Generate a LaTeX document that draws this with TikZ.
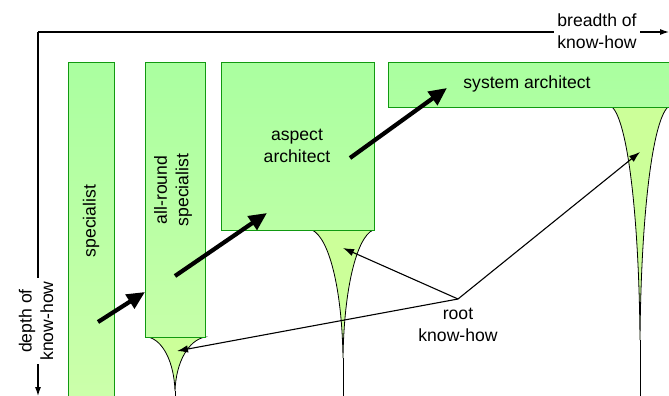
\documentclass[tikz,border=0pt]{standalone}
\usepackage{fontspec}
\setmainfont{Liberation Sans}
\usetikzlibrary{arrows.meta}
\definecolor{grtop}{HTML}{AAFFA0}
\definecolor{grbot}{HTML}{CCFFAA}
\definecolor{rootfill}{HTML}{CCFF99}
\definecolor{boxline}{HTML}{119911}
\begin{document}
\begin{tikzpicture}[x=1pt,y=-1pt,font=\fontsize{17.6}{21.5}\selectfont,
  know/.style={draw=boxline,line width=1.2pt,top color=grtop,inner sep=0pt,anchor=north west},
  rootkh/.style={draw=black,fill=rootfill,line width=0.8pt},
  growth/.style={line width=4.2pt,-{Triangle[length=18pt,width=16pt]}},
  pointer/.style={line width=1.1pt,-{Latex[length=11pt,width=7.5pt]}},
  axis/.style={line width=1.1pt,-{Latex[length=9pt,width=6pt]}},
  lbl/.style={fill=white,inner sep=3pt,align=center}]
\useasboundingbox (0,0) rectangle (669,396);
\foreach \l/\t/\r/\y/\d in {148/175/205/337/54, 312/343/373/230/128, 612/640/668/107/233}{
  \filldraw[rootkh] (\l,\y) .. controls ({\l+0.55*(\t-\l)},{\y+0.06*\d}) and ({\t-1},{\y+0.46*\d}) .. (\t,{\y+\d})
    .. controls ({\t+1},{\y+0.46*\d}) and ({\r-0.55*(\r-\t)},{\y+0.06*\d}) .. (\r,\y) -- cycle;
  \draw[line width=0.8pt] (\t,{\y+\d}) -- (\t,396);
}
\node[know,minimum width=46pt,minimum height=337pt,bottom color=grbot] (specbox) at (68,62) {};
\node[know,minimum width=60pt,minimum height=275pt,bottom color=grbot!82!grtop] (allbox) at (145,62) {};
\node[know,minimum width=153pt,minimum height=168pt,bottom color=grbot!50!grtop] (aspbox) at (221,62) {};
\node[know,minimum width=285pt,minimum height=45pt,bottom color=grbot!13!grtop] (sysbox) at (388,62) {};
\node[rotate=90] (spec) at (91,221) {specialist};
\node[rotate=90,align=center] (allround) at (173,190) {all-round\\specialist};
\node[align=center] (aspect) at (297,146) {aspect\\architect};
\node (system) at (527,84) {system architect};
\coordinate (o) at (38,32);
\draw[axis] (o) -- (669,32);
\draw[axis] (o) -- (38,396);
\node[lbl] (breadth) at (597,31) {breadth of\\know-how};
\node[lbl,rotate=90] (depth) at (36,321) {depth of\\know-how};
\coordinate (s1) at (98,322); \coordinate (e1) at (145,292);
\coordinate (s2) at (175,276); \coordinate (e2) at (267,213);
\coordinate (s3) at (350,158); \coordinate (e3) at (447,88);
\draw[growth] (s1) -- (e1);
\draw[growth] (s2) -- (e2);
\draw[growth] (s3) -- (e3);
\coordinate (rk) at (458,299);
\node[align=center,anchor=north] (rootkh) at (458,305) {root\\know-how};
\coordinate (r1) at (343,248);
\coordinate (r2) at (640,152);
\coordinate (r3) at (177,351);
\draw[pointer] (rk) -- (r1);
\draw[pointer] (rk) -- (r2);
\draw[pointer] (rk) -- (r3);
\end{tikzpicture}
\end{document}
